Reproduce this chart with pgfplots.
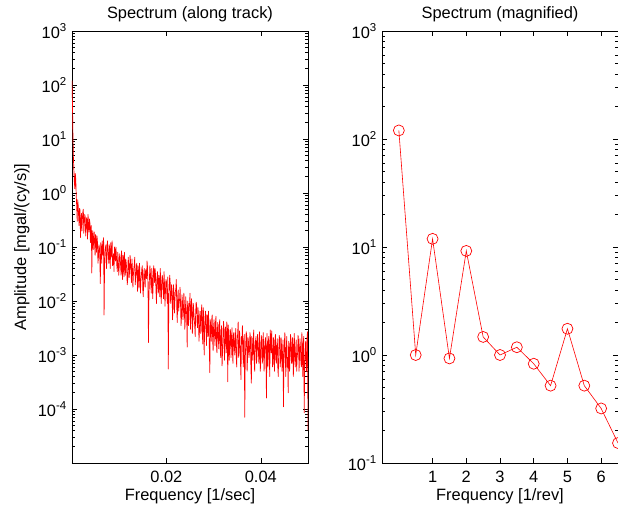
\documentclass[border=0pt]{standalone}
\usepackage{fontspec}
\setmainfont{Liberation Sans}
\usepackage{pgfplots}
\pgfplotsset{compat=1.18}
\pgfplotstableread[row sep=\\]{
x y\\
0.0000 120\\ 0.0001 45\\ 0.0002 11.5\\ 0.0003 4.5\\ 0.0004 2.6\\ 0.0005 1.6\\ 0.0006 1.2\\ 0.0007 2.3\\ 0.0008 1.8\\ 0.0009 0.9\\
0.0010 0.55\\ 0.0011 0.3\\ 0.0012 0.75\\ 0.0013 0.62\\ 0.0014 0.38\\ 0.0015 0.25\\ 0.0016 0.52\\ 0.0017 0.48\\ 0.0018 0.15\\ 0.0019 0.3\\
0.0020 0.42\\ 0.0021 0.2\\ 0.0022 0.33\\ 0.0023 0.45\\ 0.0024 0.5\\ 0.0025 0.18\\ 0.0026 0.27\\ 0.0027 0.4\\ 0.0028 0.36\\ 0.0029 0.16\\
0.0030 0.22\\ 0.0031 0.35\\ 0.0032 0.31\\ 0.0033 0.14\\ 0.0034 0.4\\ 0.0035 0.26\\ 0.0036 0.19\\ 0.0037 0.33\\ 0.0038 0.28\\ 0.0039 0.12\\
0.0040 0.23\\ 0.0041 0.25\\ 0.0042 0.033\\ 0.0043 0.15\\ 0.0044 0.2\\ 0.0045 0.09\\ 0.0046 0.15\\ 0.0047 0.19\\ 0.0048 0.11\\ 0.0049 0.07\\
0.0050 0.17\\ 0.0051 0.13\\ 0.0052 0.08\\ 0.0053 0.16\\ 0.0054 0.12\\ 0.0055 0.05\\ 0.0056 0.065\\ 0.0057 0.11\\ 0.0058 0.1\\ 0.0059 0.06\\
0.0060 0.021\\ 0.0061 0.12\\ 0.0062 0.09\\ 0.0063 0.05\\ 0.0064 0.13\\ 0.0065 0.09\\ 0.0066 0.07\\ 0.0067 0.15\\ 0.0068 0.0055\\ 0.0069 0.045\\
0.0070 0.08\\ 0.0071 0.1\\ 0.0072 0.11\\ 0.0073 0.04\\ 0.0074 0.06\\ 0.0075 0.13\\ 0.0076 0.095\\ 0.0077 0.07\\ 0.0078 0.05\\ 0.0079 0.11\\
0.0080 0.085\\ 0.0081 0.04\\ 0.0082 0.12\\ 0.0083 0.09\\ 0.0084 0.065\\ 0.0085 0.13\\ 0.0086 0.045\\ 0.0087 0.06\\ 0.0088 0.075\\ 0.0089 0.035\\
0.0090 0.1\\ 0.0091 0.08\\ 0.0092 0.055\\ 0.0093 0.1\\ 0.0094 0.07\\ 0.0095 0.045\\ 0.0096 0.035\\ 0.0097 0.08\\ 0.0098 0.06\\ 0.0099 0.03\\
0.0100 0.042\\ 0.0101 0.075\\ 0.0102 0.065\\ 0.0103 0.045\\ 0.0104 0.03\\ 0.0105 0.085\\ 0.0106 0.05\\ 0.0107 0.025\\ 0.0108 0.07\\ 0.0109 0.06\\
0.0110 0.028\\ 0.0111 0.08\\ 0.0112 0.045\\ 0.0113 0.03\\ 0.0114 0.06\\ 0.0115 0.05\\ 0.0116 0.038\\ 0.0117 0.02\\ 0.0118 0.025\\ 0.0119 0.065\\
0.0120 0.05\\ 0.0121 0.027\\ 0.0122 0.034\\ 0.0123 0.07\\ 0.0124 0.055\\ 0.0125 0.035\\ 0.0126 0.022\\ 0.0127 0.06\\ 0.0128 0.04\\ 0.0129 0.018\\
0.0130 0.03\\ 0.0131 0.04\\ 0.0132 0.048\\ 0.0133 0.065\\ 0.0134 0.02\\ 0.0135 0.028\\ 0.0136 0.036\\ 0.0137 0.05\\ 0.0138 0.028\\ 0.0139 0.015\\
0.0140 0.045\\ 0.0141 0.035\\ 0.0142 0.018\\ 0.0143 0.05\\ 0.0144 0.032\\ 0.0145 0.014\\ 0.0146 0.024\\ 0.0147 0.03\\ 0.0148 0.04\\ 0.0149 0.045\\
0.0150 0.016\\ 0.0151 0.012\\ 0.0152 0.03\\ 0.0153 0.04\\ 0.0154 0.022\\ 0.0155 0.018\\ 0.0156 0.038\\ 0.0157 0.03\\ 0.0158 0.026\\ 0.0159 0.055\\
0.0160 0.042\\ 0.0161 0.02\\ 0.0162 0.0017\\ 0.0163 0.012\\ 0.0164 0.025\\ 0.0165 0.045\\ 0.0166 0.035\\ 0.0167 0.02\\ 0.0168 0.014\\ 0.0169 0.04\\
0.0170 0.028\\ 0.0171 0.011\\ 0.0172 0.02\\ 0.0173 0.045\\ 0.0174 0.033\\ 0.0175 0.022\\ 0.0176 0.04\\ 0.0177 0.03\\ 0.0178 0.015\\ 0.0179 0.009\\
0.0180 0.026\\ 0.0181 0.035\\ 0.0182 0.019\\ 0.0183 0.014\\ 0.0184 0.03\\ 0.0185 0.025\\ 0.0186 0.012\\ 0.0187 0.04\\ 0.0188 0.022\\ 0.0189 0.009\\
0.0190 0.017\\ 0.0191 0.03\\ 0.0192 0.027\\ 0.0193 0.016\\ 0.0194 0.011\\ 0.0195 0.035\\ 0.0196 0.02\\ 0.0197 0.008\\ 0.0198 0.015\\ 0.0199 0.025\\
0.0200 0.023\\ 0.0201 0.013\\ 0.0202 0.009\\ 0.0203 0.028\\ 0.0204 0.00055\\ 0.0205 0.007\\ 0.0206 0.018\\ 0.0207 0.03\\ 0.0208 0.022\\ 0.0209 0.009\\
0.0210 0.012\\ 0.0211 0.02\\ 0.0212 0.016\\ 0.0213 0.0045\\ 0.0214 0.008\\ 0.0215 0.02\\ 0.0216 0.014\\ 0.0217 0.006\\ 0.0218 0.01\\ 0.0219 0.015\\
0.0220 0.017\\ 0.0221 0.025\\ 0.0222 0.0075\\ 0.0223 0.004\\ 0.0224 0.012\\ 0.0225 0.016\\ 0.0226 0.0065\\ 0.0227 0.009\\ 0.0228 0.011\\ 0.0229 0.018\\
0.0230 0.0085\\ 0.0231 0.0035\\ 0.0232 0.005\\ 0.0233 0.013\\ 0.0234 0.01\\ 0.0235 0.0045\\ 0.0236 0.006\\ 0.0237 0.014\\ 0.0238 0.0085\\ 0.0239 0.003\\
0.0240 0.0045\\ 0.0241 0.012\\ 0.0242 0.007\\ 0.0243 0.0055\\ 0.0244 0.0014\\ 0.0245 0.01\\ 0.0246 0.0065\\ 0.0247 0.0035\\ 0.0248 0.009\\ 0.0249 0.008\\
0.0250 0.014\\ 0.0251 0.003\\ 0.0252 0.0055\\ 0.0253 0.011\\ 0.0254 0.008\\ 0.0255 0.0025\\ 0.0256 0.004\\ 0.0257 0.009\\ 0.0258 0.0065\\ 0.0259 0.0045\\
0.0260 0.0035\\ 0.0261 0.0022\\ 0.0262 0.006\\ 0.0263 0.0095\\ 0.0264 0.0085\\ 0.0265 0.004\\ 0.0266 0.0032\\ 0.0267 0.0075\\ 0.0268 0.005\\ 0.0269 0.0018\\
0.0270 0.0027\\ 0.0271 0.0065\\ 0.0272 0.0045\\ 0.0273 0.0025\\ 0.0274 0.0065\\ 0.0275 0.0085\\ 0.0276 0.0029\\ 0.0277 0.0016\\ 0.0278 0.0075\\ 0.0279 0.0055\\
0.0280 0.001\\ 0.0281 0.003\\ 0.0282 0.0042\\ 0.0283 0.0065\\ 0.0284 0.0028\\ 0.0285 0.0015\\ 0.0286 0.0055\\ 0.0287 0.005\\ 0.0288 0.0022\\ 0.0289 0.0065\\
0.0290 0.0037\\ 0.0291 0.0013\\ 0.0292 0.00047\\ 0.0293 0.0045\\ 0.0294 0.0031\\ 0.0295 0.0018\\ 0.0296 0.0045\\ 0.0297 0.0055\\ 0.0298 0.0019\\ 0.0299 0.0012\\
0.0300 0.0033\\ 0.0301 0.0045\\ 0.0302 0.0024\\ 0.0303 0.0015\\ 0.0304 0.004\\ 0.0305 0.0052\\ 0.0306 0.0016\\ 0.0307 0.0011\\ 0.0308 0.0028\\ 0.0309 0.004\\
0.0310 0.0021\\ 0.0311 0.0013\\ 0.0312 0.0035\\ 0.0313 0.0045\\ 0.0314 0.0014\\ 0.0315 0.0009\\ 0.0316 0.0026\\ 0.0317 0.0035\\ 0.0318 0.00063\\ 0.0319 0.0012\\
0.0320 0.0019\\ 0.0321 0.0042\\ 0.0322 0.003\\ 0.0323 0.0008\\ 0.0324 0.0015\\ 0.0325 0.0033\\ 0.0326 0.0023\\ 0.0327 0.0011\\ 0.0328 0.0041\\ 0.0329 0.0028\\
0.0330 0.00032\\ 0.0331 0.0036\\ 0.0332 0.0022\\ 0.0333 0.0008\\ 0.0334 0.0013\\ 0.0335 0.003\\ 0.0336 0.0027\\ 0.0337 0.0009\\ 0.0338 0.0017\\ 0.0339 0.0032\\
0.0340 0.0011\\ 0.0341 0.0007\\ 0.0342 0.0024\\ 0.0343 0.0026\\ 0.0344 0.0014\\ 0.0345 0.001\\ 0.0346 0.002\\ 0.0347 0.0031\\ 0.0348 0.0009\\ 0.0349 0.0006\\
0.0350 0.0018\\ 0.0351 0.0025\\ 0.0352 0.0041\\ 0.0353 0.0009\\ 0.0354 0.0012\\ 0.0355 0.0028\\ 0.0356 0.0019\\ 0.0357 0.0007\\ 0.0358 0.00035\\ 0.0359 0.0022\\
0.0360 0.0016\\ 0.0361 0.0035\\ 0.0362 0.0011\\ 0.0363 0.0006\\ 0.0364 0.002\\ 0.0365 0.0024\\ 0.0366 0.00007\\ 0.0367 0.0008\\ 0.0368 0.0015\\ 0.0369 0.0027\\
0.0370 0.0024\\ 0.0371 0.0005\\ 0.0372 0.0009\\ 0.0373 0.0021\\ 0.0374 0.0017\\ 0.0375 0.0009\\ 0.0376 0.0012\\ 0.0377 0.0026\\ 0.0378 0.0021\\ 0.0379 0.0006\\
0.0380 0.0003\\ 0.0381 0.0022\\ 0.0382 0.0014\\ 0.0383 0.0008\\ 0.0384 0.0019\\ 0.0385 0.0029\\ 0.0386 0.0008\\ 0.0387 0.0005\\ 0.0388 0.0013\\ 0.0389 0.0019\\
0.0390 0.0022\\ 0.0391 0.0007\\ 0.0392 0.001\\ 0.0393 0.0024\\ 0.0394 0.0016\\ 0.0395 0.0011\\ 0.0396 0.0007\\ 0.0397 0.0027\\ 0.0398 0.0014\\ 0.0399 0.0005\\
0.0400 0.0011\\ 0.0401 0.0023\\ 0.0402 0.0019\\ 0.0403 0.0007\\ 0.0404 0.0008\\ 0.0405 0.0026\\ 0.0406 0.0015\\ 0.0407 0.0005\\ 0.0408 0.0012\\ 0.0409 0.0018\\
0.0410 0.0021\\ 0.0411 0.0008\\ 0.0412 0.00016\\ 0.0413 0.0025\\ 0.0414 0.0013\\ 0.0415 0.0006\\ 0.0416 0.0018\\ 0.0417 0.0022\\ 0.0418 0.0009\\ 0.0419 0.0004\\
0.0420 0.0029\\ 0.0421 0.0019\\ 0.0422 0.0011\\ 0.0423 0.0028\\ 0.0424 0.0016\\ 0.0425 0.0006\\ 0.0426 0.0007\\ 0.0427 0.0021\\ 0.0428 0.0013\\ 0.0429 0.0005\\
0.0430 0.0018\\ 0.0431 0.0024\\ 0.0432 0.0009\\ 0.0433 0.0007\\ 0.0434 0.0015\\ 0.0435 0.002\\ 0.0436 0.0006\\ 0.0437 0.0004\\ 0.0438 0.0012\\ 0.0439 0.0023\\
0.0440 0.002\\ 0.0441 0.0006\\ 0.0442 0.0008\\ 0.0443 0.0021\\ 0.0444 0.0014\\ 0.0445 0.0005\\ 0.0446 0.001\\ 0.0447 0.0019\\ 0.0448 0.00011\\ 0.0449 0.0008\\
0.0450 0.0017\\ 0.0451 0.0026\\ 0.0452 0.0009\\ 0.0453 0.0004\\ 0.0454 0.0013\\ 0.0455 0.0022\\ 0.0456 0.0006\\ 0.0457 0.0009\\ 0.0458 0.0002\\ 0.0459 0.0018\\
0.0460 0.0015\\ 0.0461 0.0005\\ 0.0462 0.001\\ 0.0463 0.0024\\ 0.0464 0.0019\\ 0.0465 0.0007\\ 0.0466 0.0007\\ 0.0467 0.0021\\ 0.0468 0.0012\\ 0.0469 0.0004\\
0.0470 0.0016\\ 0.0471 0.0025\\ 0.0472 0.0008\\ 0.0473 0.0006\\ 0.0474 0.0013\\ 0.0475 0.0019\\ 0.0476 0.0005\\ 0.0477 0.0009\\ 0.0478 0.0011\\ 0.0479 0.0023\\
0.0480 0.0018\\ 0.0481 0.0005\\ 0.0482 0.0009\\ 0.0483 0.002\\ 0.0484 0.0014\\ 0.0485 0.0007\\ 0.0486 0.0006\\ 0.0487 0.0026\\ 0.0488 0.0012\\ 0.0489 0.0004\\
0.0490 0.0017\\ 0.0491 0.0022\\ 0.0492 0.000085\\ 0.0493 0.0006\\ 0.0494 0.0011\\ 0.0495 0.0018\\ 0.0496 0.0008\\ 0.0497 0.0005\\ 0.0498 0.0021\\ 0.0499 0.0027\\
0.0500 0.00004\\
}\spectrum
\pgfplotstableread[row sep=\\]{
x y\\
0 120\\ 0.5 1.0\\ 1 11.9\\ 1.5 0.93\\ 2 9.2\\ 2.5 1.47\\ 3 1.0\\ 3.5 1.18\\ 4 0.83\\ 4.5 0.52\\ 5 1.75\\ 5.5 0.52\\ 6 0.32\\ 6.5 0.153\\
}\magnified
\begin{document}
\begin{tikzpicture}[font=\fontsize{16.4}{19.7}\selectfont]
\useasboundingbox (-72pt,-50pt) rectangle (546pt,463pt);
\begin{axis}[at={(0pt,0pt)}, anchor=south west,
  width=236pt, height=432pt, scale only axis,
  ymode=log, scaled x ticks=false,
  axis line style={line width=0.8pt},
  tick style={black, line width=0.6pt},
  major tick length=5pt, minor tick length=3pt,
  title style={inner sep=0pt, yshift=3pt},
  every axis x label/.style={at={(axis description cs:0.5,0)}, anchor=north, inner sep=0pt, yshift=-25pt},
  every axis y label/.style={at={(axis description cs:0,0.5)}, xshift=-50pt, rotate=90, anchor=center, inner sep=0pt},
  xticklabel style={inner sep=0pt, yshift=-8pt},
  yticklabel style={inner sep=0pt, xshift=-5pt},
  xmin=0, xmax=0.05, ymin=1e-5, ymax=1e3,
  xtick={0.02,0.04}, xticklabels={0.02,0.04},
  ytick={1e-5,1e-4,1e-3,1e-2,1e-1,1,10,100,1000},
  yticklabels={,10\textsuperscript{-4},10\textsuperscript{-3},10\textsuperscript{-2},10\textsuperscript{-1},10\textsuperscript{0},10\textsuperscript{1},10\textsuperscript{2},10\textsuperscript{3}},
  title={Spectrum (along track)},
  xlabel={Frequency [1/sec]},
  ylabel={Amplitude [mgal/(cy/s)]},
]
\addplot[red, line width=0.7pt, line join=round] table[x=x,y=y] {\spectrum};
\end{axis}
\begin{axis}[at={(310pt,0pt)}, anchor=south west,
  width=236pt, height=432pt, scale only axis,
  ymode=log,
  axis line style={line width=0.8pt},
  tick style={black, line width=0.6pt},
  major tick length=5pt, minor tick length=3pt,
  title style={inner sep=0pt, yshift=3pt},
  every axis x label/.style={at={(axis description cs:0.5,0)}, anchor=north, inner sep=0pt, yshift=-25pt},
  xticklabel style={inner sep=0pt, yshift=-8pt},
  yticklabel style={inner sep=0pt, xshift=-5pt},
  xmin=-0.5, xmax=6.5, ymin=0.1, ymax=1000,
  xtick={1,2,3,4,5,6}, xticklabels={1,2,3,4,5,6},
  ytick={0.1,1,10,100,1000},
  yticklabels={10\textsuperscript{-1},10\textsuperscript{0},10\textsuperscript{1},10\textsuperscript{2},10\textsuperscript{3}},
  title={Spectrum (magnified)},
  xlabel={Frequency [1/rev]},
]
\addplot[red, line width=0.6pt, mark=o, mark size=5.5pt, mark options={line width=0.7pt}] table[x=x,y=y] {\magnified};
\end{axis}
\end{tikzpicture}
\end{document}
